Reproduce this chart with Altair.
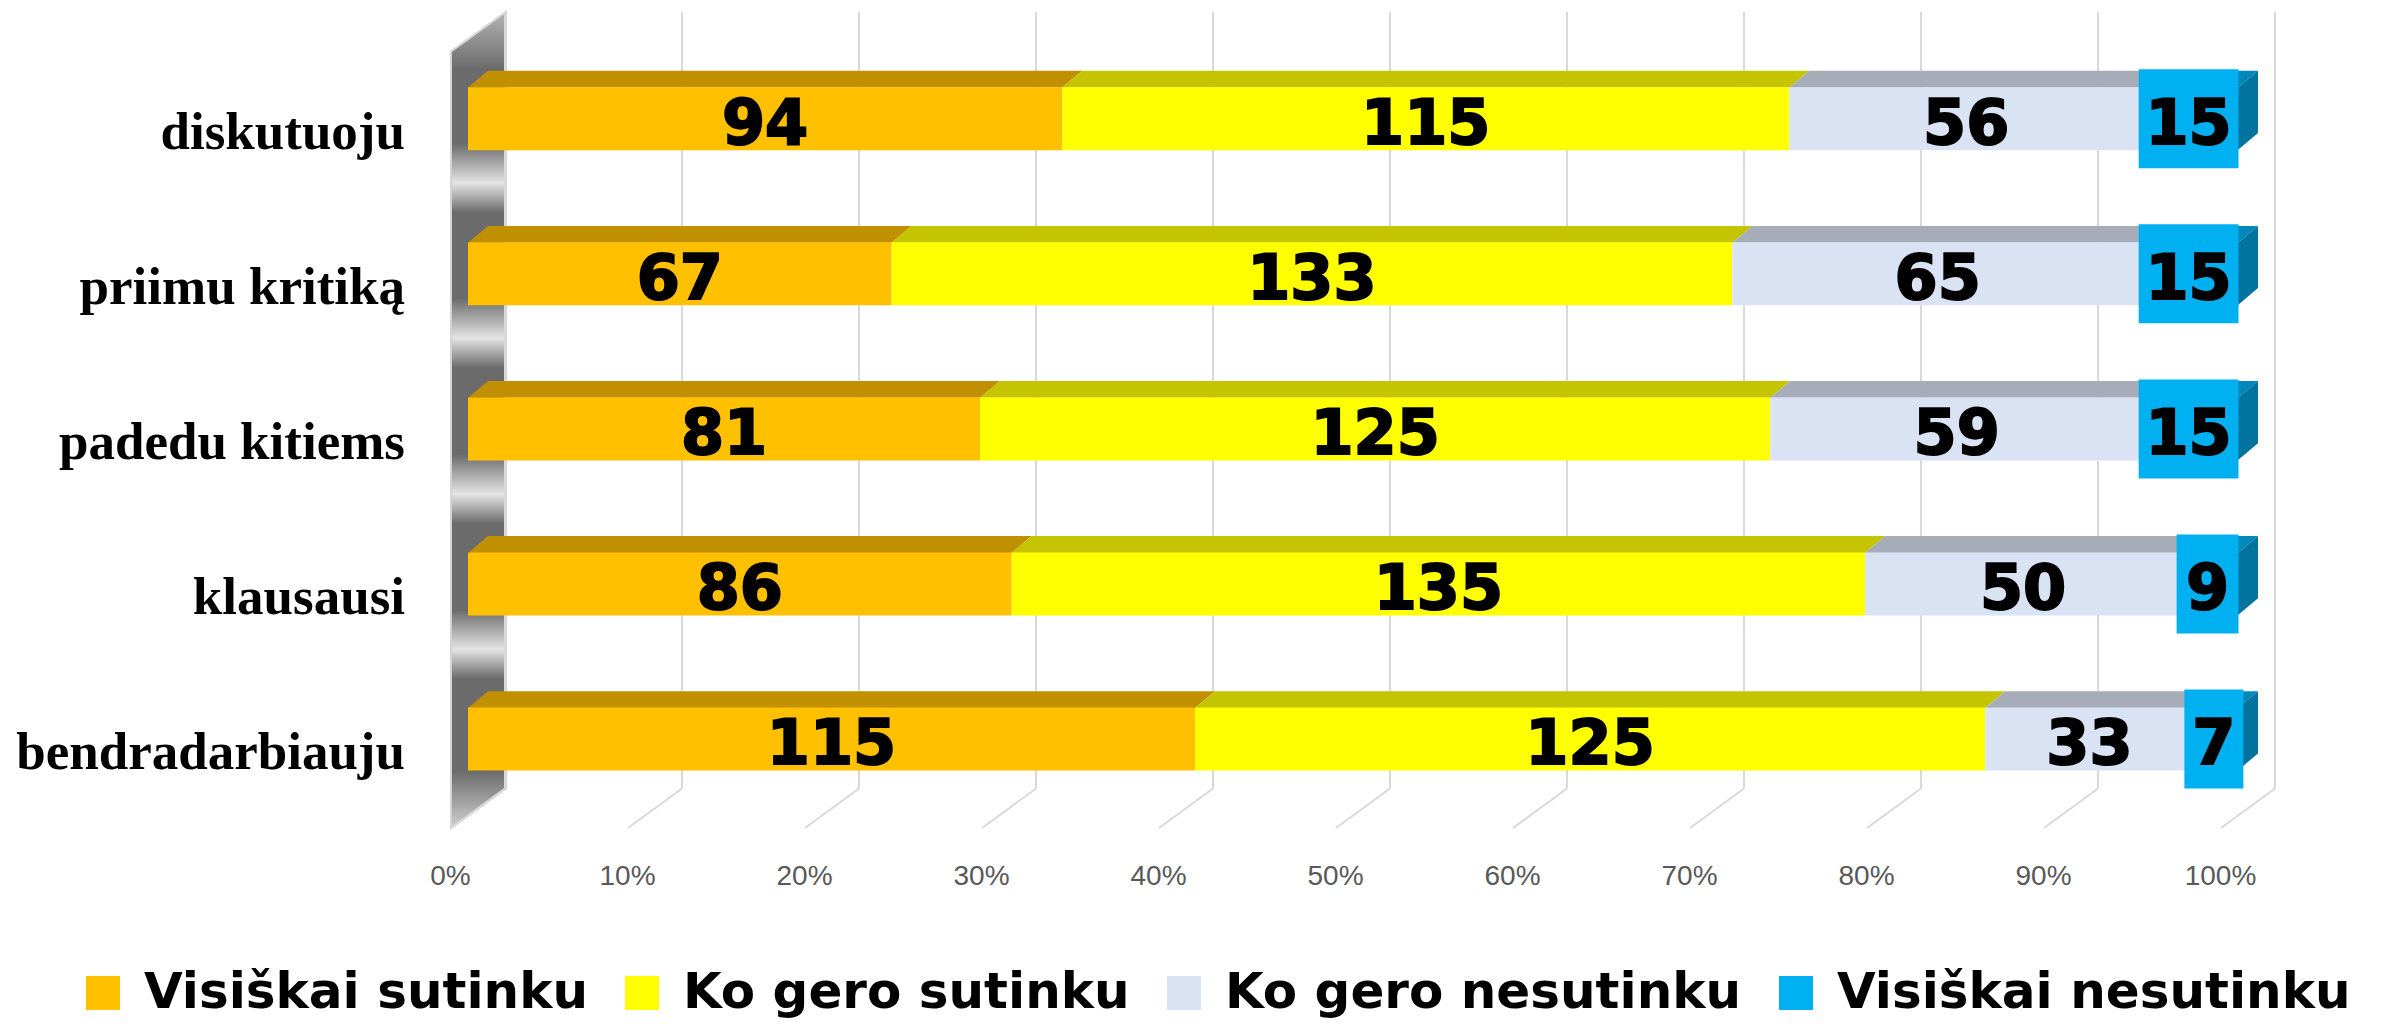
import altair as alt
import pandas as pd

# ---------------- data ----------------
categories = ["diskutuoju", "priimu kritiką", "padedu kitiems", "klausausi", "bendradarbiauju"]
series = ["Visiškai sutinku", "Ko gero sutinku", "Ko gero nesutinku", "Visiškai nesutinku"]
visiskai_sutinku = [94, 67, 81, 86, 115]
ko_gero_sutinku = [115, 133, 125, 135, 125]
ko_gero_nesutinku = [56, 65, 59, 50, 33]
visiskai_nesutinku = [15, 15, 15, 9, 7]
tick_values = [0, 0.1, 0.2, 0.3, 0.4, 0.5, 0.6, 0.7, 0.8, 0.9, 1.0]

front_colors = ["#FFC000", "#FFFF00", "#DAE3F3", "#00B0F0"]
top_colors = ["#C09000", "#C4C400", "#A6ADB9", "#0088BA"]
side_color = "#00739E"

# ---------------- geometry of the plot (style) ----------------
W = 1770          # px for 100 %
P = 157           # px between category rows
H = 825
D0 = -107 / P
D1 = D0 + H / P
BAR = 63          # bar thickness px
DX, DY = 20, 17   # 3-D depth of bars
PAGE_TOP = 8
BOLD_SANS = "DejaVu Sans"


def ypx(page_y):
    return D0 + (page_y - PAGE_TOP) / P


xs = alt.Scale(domain=[0, 1], nice=False, zero=False)
ys = alt.Scale(domain=[D0, D1], reverse=True, nice=False, zero=False)
xaxis = alt.Axis(values=tick_values, format=".0%", title=None, grid=False, domain=False,
                 ticks=False, tickSize=0, labelPadding=29, labelOffset=-18,
                 labelFont="Liberation Sans Narrow, Liberation Sans", labelFontSize=28,
                 labelColor="#595959", labelFlush=False, labelOverlap=False)

values_by_series = [visiskai_sutinku, ko_gero_sutinku, ko_gero_nesutinku, visiskai_nesutinku]

seg_rows, top_rows, side_rows, cat_rows = [], [], [], []
for i, cat in enumerate(categories):
    vals = [v[i] for v in values_by_series]
    tot = sum(vals)
    acc = 0
    for j, s in enumerate(series):
        s0 = acc / tot
        acc += vals[j]
        s1 = acc / tot
        mid = (s0 + s1) / 2
        seg_px = (s1 - s0) * W
        bc = mid - 2 / W
        bw = max(seg_px + 5, 59) / W
        seg_rows.append(dict(cat=cat, idx=i, series=s, value=vals[j], s0=s0, s1=s1,
                             mid=bc if j == 3 else mid,
                             bx0=bc - bw / 2, bx1=bc + bw / 2, last=(j == 3)))
        key = f"{i}-{j}"
        top_rows.append(dict(key=key, tc=top_colors[j], y=i - (BAR / 2) / P, x=s0, x2=s1))
        top_rows.append(dict(key=key, tc=top_colors[j], y=i - (BAR / 2 + DY) / P,
                             x=s0 + DX / W, x2=s1 + DX / W))
    side_rows.append(dict(key=str(i), x=1.0, y=i - (BAR / 2) / P, y2=i + (BAR / 2) / P))
    side_rows.append(dict(key=str(i), x=1.0 + DX / W, y=i - (BAR / 2 + DY) / P,
                          y2=i + (BAR / 2 - DY) / P))
    cat_rows.append(dict(cat=cat, idx=i, x0=0.0))

segs = pd.DataFrame(seg_rows)
tops = pd.DataFrame(top_rows)
sides = pd.DataFrame(side_rows)
cats = pd.DataFrame(cat_rows)
grid = pd.DataFrame(dict(t=tick_values, ytop=ypx(7), yback=ypx(793), yfront=ypx(833)))
wall = pd.DataFrame(dict(x=[-17 / W, 38 / W], y=[ypx(47), ypx(7)], y2=[ypx(833), ypx(793)]))

# wall gradient
stops = [alt.GradientStop(offset=0.0, color="#b5b5b5"), alt.GradientStop(offset=0.07, color="#6b6b6b")]
for c in [180, 337, 495, 652]:
    stops += [alt.GradientStop(offset=(c - 40 - 7) / 826, color="#6b6b6b"),
              alt.GradientStop(offset=(c - 7) / 826, color="#e4e4e4"),
              alt.GradientStop(offset=(c + 30 - 7) / 826, color="#6b6b6b")]
stops += [alt.GradientStop(offset=0.93, color="#6b6b6b"), alt.GradientStop(offset=1.0, color="#cfcfcf")]
wall_grad = alt.Gradient(gradient="linear", stops=stops, x1=0, x2=0, y1=0, y2=1)

wall_layer = alt.Chart(wall).mark_area(orient="vertical", color=wall_grad, stroke="#d4d4d4",
                                       strokeWidth=2).encode(
    x=alt.X("x:Q", scale=xs, axis=xaxis),
    y=alt.Y("y:Q", scale=ys, axis=None),
    y2="y2:Q")

back_grid = alt.Chart(grid).mark_rule(color="#d9d9d9", strokeWidth=2, xOffset=37).encode(
    x=alt.X("t:Q", scale=xs, axis=xaxis),
    y=alt.Y("ytop:Q", scale=ys, axis=None),
    y2="yback:Q")

floor_grid = alt.Chart(grid).mark_rule(color="#d9d9d9", strokeWidth=2, xOffset=37, x2Offset=-17).encode(
    x=alt.X("t:Q", scale=xs, axis=xaxis),
    x2="t:Q",
    y=alt.Y("yback:Q", scale=ys, axis=None),
    y2="yfront:Q")

top_layer = alt.Chart(tops).mark_area(orient="horizontal").encode(
    y=alt.Y("y:Q", scale=ys, axis=None),
    x=alt.X("x:Q", scale=xs, axis=xaxis),
    x2="x2:Q",
    detail="key:N",
    color=alt.Color("tc:N", scale=None))

side_layer = alt.Chart(sides).mark_area(orient="vertical", color=side_color).encode(
    x=alt.X("x:Q", scale=xs, axis=xaxis),
    y=alt.Y("y:Q", scale=ys, axis=None),
    y2="y2:Q",
    detail="key:N")

bars = alt.Chart(segs).mark_bar(size=BAR, orient="horizontal").encode(
    x=alt.X("s0:Q", scale=xs, axis=xaxis),
    x2="s1:Q",
    y=alt.Y("idx:Q", scale=ys, axis=None),
    color=alt.Color("series:N", sort=series,
                    scale=alt.Scale(domain=series, range=front_colors),
                    legend=alt.Legend(title=None, orient="none", legendX=-390, legendY=960,
                                      direction="horizontal", symbolType="square",
                                      symbolSize=1156, symbolStrokeWidth=0, symbolOpacity=1,
                                      labelFont=BOLD_SANS, labelFontSize=50, labelFontWeight="bold",
                                      labelColor="#000000", labelOffset=16, columnPadding=29,
                                      labelLimit=1000, padding=0)))

boxes = alt.Chart(segs).transform_filter("datum.last").mark_bar(size=99, orient="horizontal",
                                                               color="#00B0F0").encode(
    x=alt.X("bx0:Q", scale=xs, axis=xaxis),
    x2="bx1:Q",
    y=alt.Y("idx:Q", scale=ys, axis=None))

value_labels = alt.Chart(segs).mark_text(font=BOLD_SANS, fontWeight="bold", fontSize=62,
                                         baseline="middle", align="center", dy=6,
                                         color="#000000", stroke="#000000",
                                         strokeWidth=2).encode(
    x=alt.X("mid:Q", scale=xs, axis=xaxis),
    y=alt.Y("idx:Q", scale=ys, axis=None),
    text="value:Q")

cat_labels = alt.Chart(cats).mark_text(font="Liberation Serif", fontWeight="bold", fontSize=53,
                                       align="right", baseline="alphabetic", dx=-63, dy=30,
                                       color="#000000").encode(
    x=alt.X("x0:Q", scale=xs, axis=xaxis),
    y=alt.Y("idx:Q", scale=ys, axis=None),
    text="cat:N")

chart = alt.layer(wall_layer, back_grid, floor_grid, top_layer, side_layer, bars, boxes,
                  value_labels, cat_labels).properties(
    width=W, height=H,
    autosize=alt.AutoSizeParams(type="none"),
    padding={"left": 460, "top": 0, "right": 138, "bottom": 187},
).configure_view(stroke=None)

chart.save("out.html", embed_options={"renderer": "svg", "actions": False})
